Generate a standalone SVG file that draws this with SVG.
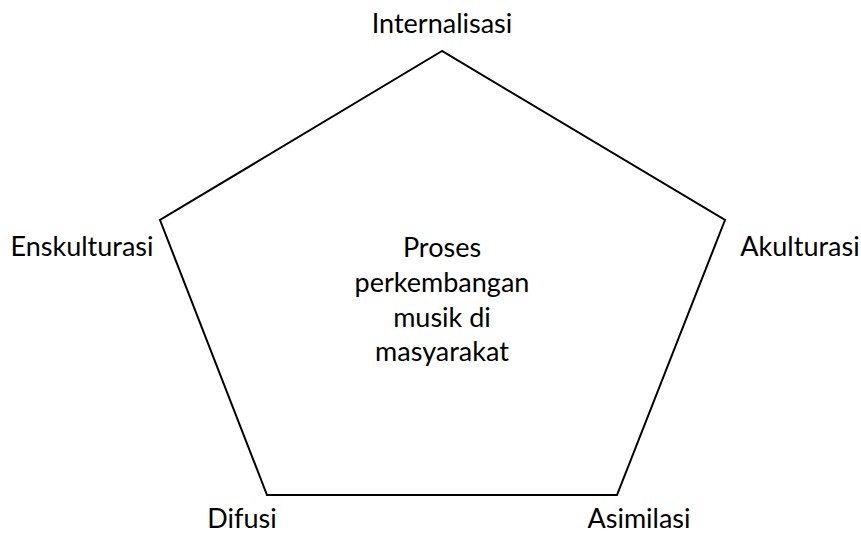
<svg xmlns="http://www.w3.org/2000/svg" width="861" height="535" viewBox="0 0 861 535">
<style>
.t{font-family:Lato,"Liberation Sans",Arial,sans-serif;font-size:27px;fill:#000;text-anchor:middle}
.s{fill:none;stroke:#000;stroke-width:2}
</style>
<rect width="861" height="535" fill="#fff"/>
<g id="connectors">
<polygon class="s" points="442,51 160,220 267,495 617,495 725,220"/>
</g>
<g id="center"><text class="t" x="442" y="257">Proses</text><text class="t" x="442" y="292">perkembangan</text><text class="t" x="442" y="327">musik di</text><text class="t" x="442" y="361">masyarakat</text></g>
<g id="internalisasi"><text class="t" x="442" y="33">Internalisasi</text></g>
<g id="enskulturasi"><text class="t" x="82" y="256">Enskulturasi</text></g>
<g id="akulturasi"><text class="t" x="800" y="256">Akulturasi</text></g>
<g id="difusi"><text class="t" x="242" y="528">Difusi</text></g>
<g id="asimilasi"><text class="t" x="639" y="528">Asimilasi</text></g>
</svg>
